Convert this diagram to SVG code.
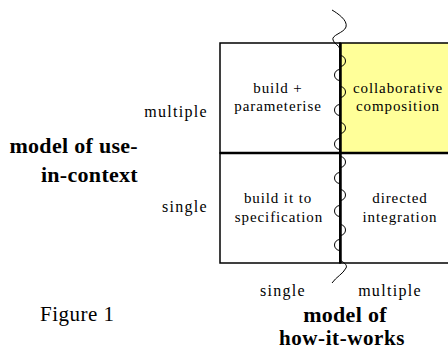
<svg xmlns="http://www.w3.org/2000/svg" width="448" height="351" viewBox="0 0 448 351">
<style>
text{font-family:'Liberation Serif','DejaVu Serif','Times New Roman',serif;fill:#000}
.t{font-size:15px;letter-spacing:0.9px}
.s{font-size:16px;letter-spacing:1.3px}
.b{font-size:22px;font-weight:bold;letter-spacing:0.3px}
.c{text-anchor:middle}
.r{text-anchor:end}
.cell{stroke:#000;stroke-width:1.5}
</style>
<rect width="448" height="351" fill="#fff"/>
<g id="cell-build-parameterise">
<rect class="cell" x="220" y="43" width="120" height="110" fill="#fff"/>
<text class="t c" x="278" y="93">build +</text>
<text class="t c" x="278" y="111">parameterise</text>
</g>
<g id="cell-collaborative-composition">
<rect class="cell" x="340" y="43" width="115" height="110" fill="#ffff99"/>
<text class="t c" x="398" y="93">collaborative</text>
<text class="t c" x="398" y="111">composition</text>
</g>
<g id="cell-build-to-spec">
<rect class="cell" x="220" y="153" width="120" height="110" fill="#fff"/>
<text class="t c" x="278" y="203">build it to</text>
<text class="t c" x="279" y="222">specification</text>
</g>
<g id="cell-directed-integration">
<rect class="cell" x="340" y="153" width="115" height="110" fill="#fff"/>
<text class="t c" x="400" y="203">directed</text>
<text class="t c" x="400" y="222">integration</text>
</g>
<g id="connectors" fill="none" stroke="#000">
<line x1="220" y1="153" x2="448" y2="153" stroke-width="2.5"/>
<line x1="340.5" y1="43" x2="340.5" y2="263" stroke-width="2.5"/>
<path stroke-width="1" d="M332,10 C337,13 348,20 346,27 C344,33 331,35 333,40 C334,44 339,45 340,49 L340,55.5 A5.5,5.5 0 0 1 340,66.5 L340,69.5 A5.5,5.5 0 0 0 340,80.5 L340,86.5 A5.5,5.5 0 0 1 340,97.5 L340,104.5 A5.5,5.5 0 0 0 340,115.5 L340,122.5 A5.5,5.5 0 0 1 340,133.5 L340,138.5 A5.5,5.5 0 0 0 340,149.5 L340,156.5 A5.5,5.5 0 0 1 340,167.5 L340,172.5 A5.5,5.5 0 0 0 340,183.5 L340,189.5 A5.5,5.5 0 0 1 340,200.5 L340,205.5 A5.5,5.5 0 0 0 340,216.5 L340,224.5 A5.5,5.5 0 0 1 340,235.5 L340,239.5 A5.5,5.5 0 0 0 340,250.5 L340,260 C343,262 348,265 346,268 C343,274 336,277 332,283"/>
</g>
<g id="labels">
<text class="s r" x="208" y="117">multiple</text>
<text class="s r" x="208" y="212">single</text>
<text class="b r" x="138" y="153">model of use-</text>
<text class="b r" x="138" y="182">in-context</text>
<text class="s c" x="283" y="296">single</text>
<text class="s c" x="390" y="296">multiple</text>
<text class="b c" x="345" y="322">model of</text>
<text class="b c" x="342" y="345" style="font-size:21px;letter-spacing:0.6px">how-it-works</text>
<text x="40" y="321" style="font-size:21px;letter-spacing:0.5px">Figure 1</text>
</g>
</svg>
